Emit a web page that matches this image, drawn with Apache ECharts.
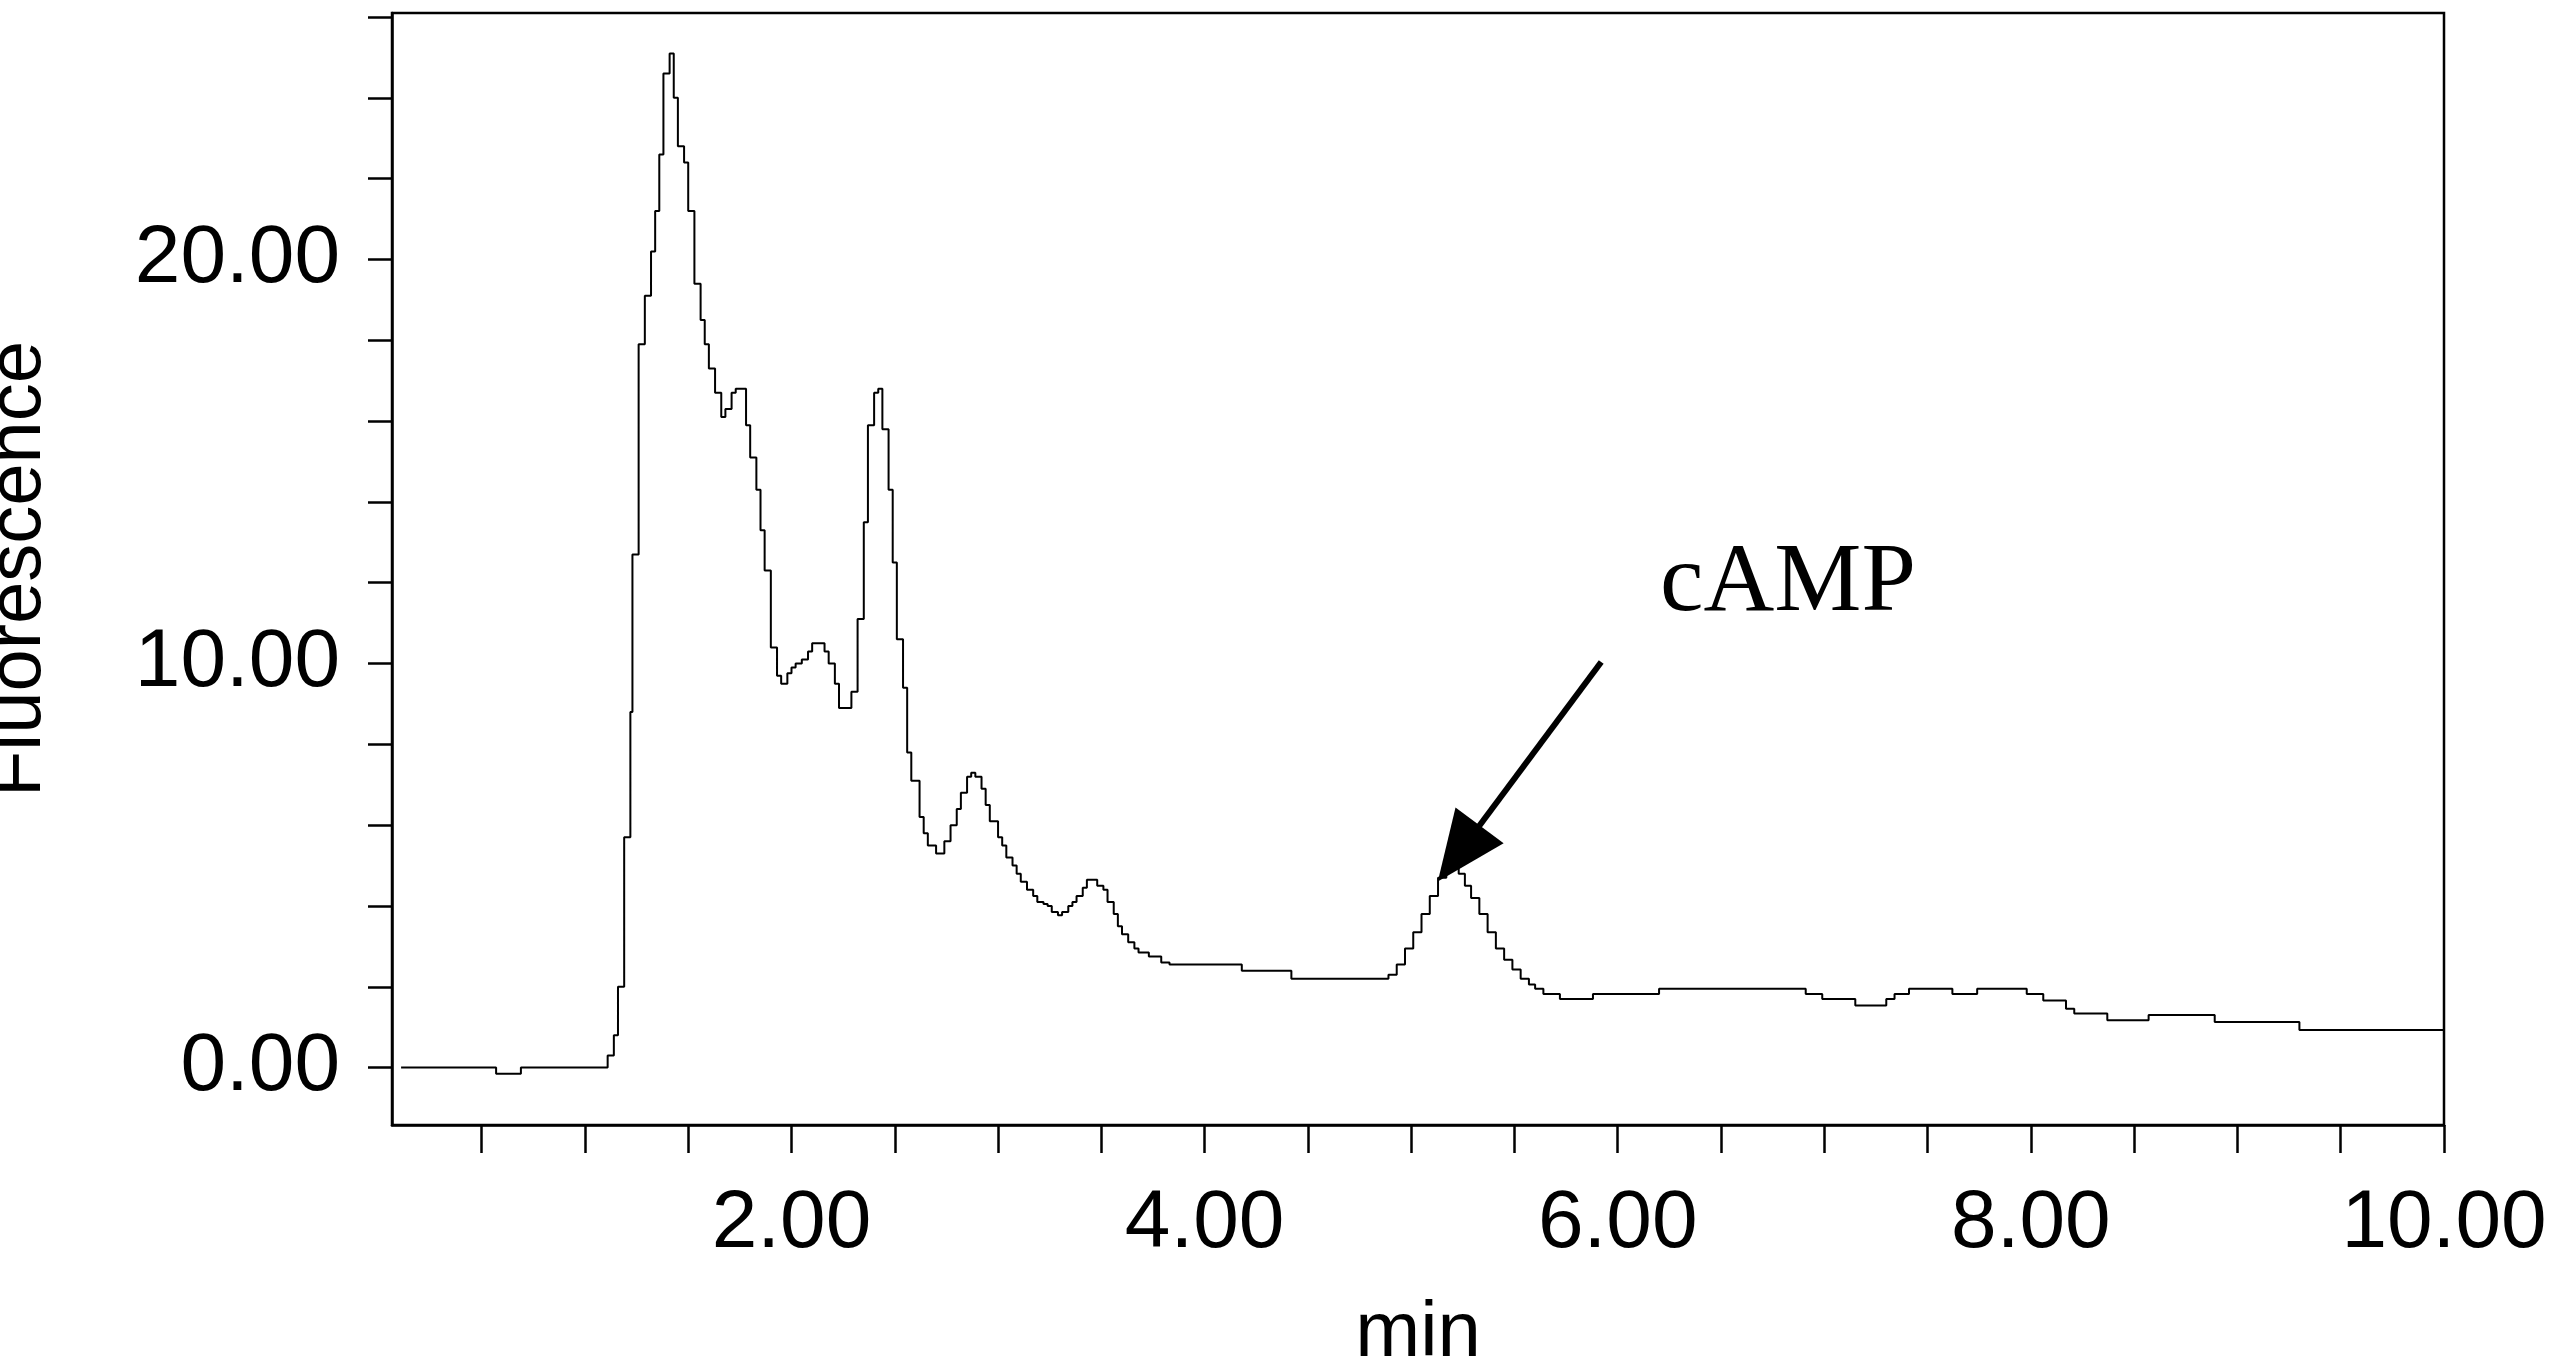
<!DOCTYPE html>
<html>
<head>
<meta charset="utf-8">
<title>cAMP</title>
<script src="https://cdn.jsdelivr.net/npm/echarts@6/dist/echarts.min.js"></script>
<style>html,body{margin:0;padding:0;background:#fff}#main{width:2550px;height:1358px}</style>
</head>
<body>
<div id="main"></div>
<script>
// chromatogram trace: time (min) and fluorescence, each value holds from its time on
var times = [0.11,0.57,0.69,1.08,1.11,1.14,1.16,1.19,1.22,1.23,1.26,1.29,1.32,1.34,1.36,1.38,1.41,1.43,1.45,1.48,1.50,1.53,1.56,1.58,1.60,1.63,1.66,1.68,1.71,1.73,1.75,1.78,1.80,1.83,1.85,1.87,1.90,1.93,1.95,1.98,2.00,2.02,2.05,2.08,2.10,2.13,2.16,2.18,2.21,2.23,2.27,2.29,2.32,2.35,2.37,2.40,2.42,2.44,2.47,2.49,2.51,2.54,2.56,2.58,2.62,2.64,2.66,2.70,2.72,2.74,2.77,2.80,2.82,2.85,2.87,2.89,2.92,2.94,2.96,3.00,3.02,3.04,3.07,3.09,3.11,3.14,3.17,3.19,3.22,3.24,3.26,3.29,3.31,3.34,3.36,3.38,3.41,3.43,3.45,3.48,3.51,3.53,3.56,3.58,3.60,3.63,3.66,3.68,3.73,3.79,3.83,4.18,4.42,4.89,4.93,4.97,5.01,5.05,5.09,5.13,5.17,5.21,5.23,5.26,5.29,5.33,5.37,5.41,5.45,5.49,5.53,5.57,5.60,5.64,5.72,5.88,6.20,6.91,6.99,7.15,7.30,7.34,7.41,7.62,7.74,7.98,8.06,8.17,8.21,8.37,8.57,8.89,9.30,10.0];
var fluor = [0,-0.15,0,0,0.3,0.8,2.0,5.7,8.8,12.7,17.9,19.1,20.2,21.2,22.6,24.6,25.1,24.0,22.8,22.4,21.2,19.4,18.5,17.9,17.3,16.7,16.1,16.3,16.7,16.8,16.8,15.9,15.1,14.3,13.3,12.3,10.4,9.7,9.5,9.76,9.9,10.0,10.1,10.3,10.5,10.5,10.3,10.0,9.5,8.9,8.9,9.3,11.1,13.5,15.9,16.7,16.8,15.8,14.3,12.5,10.6,9.4,7.8,7.1,6.2,5.8,5.5,5.3,5.3,5.6,6.0,6.4,6.8,7.2,7.3,7.2,6.9,6.5,6.1,5.7,5.5,5.2,5.0,4.8,4.6,4.4,4.25,4.1,4.05,4.0,3.85,3.77,3.85,4.0,4.1,4.25,4.45,4.65,4.65,4.5,4.4,4.1,3.8,3.5,3.3,3.1,2.95,2.85,2.75,2.6,2.55,2.4,2.2,2.3,2.55,2.95,3.35,3.8,4.25,4.7,4.95,5.0,4.8,4.5,4.2,3.8,3.35,2.95,2.67,2.43,2.2,2.06,1.95,1.82,1.7,1.82,1.95,1.82,1.7,1.54,1.7,1.82,1.95,1.82,1.95,1.82,1.66,1.46,1.34,1.17,1.3,1.13,0.93,0.93];
var xTicks = [0.5,1,1.5,2,2.5,3,3.5,4,4.5,5,5.5,6,6.5,7,7.5,8,8.5,9,9.5,10];
var xLabels = [2,4,6,8,10];
var yTicks = [0,2,4,6,8,10,12,14,16,18,20,22,24,26];
var yLabels = [0,10,20];
var arrowFrom = [5.92, 10.04];
var arrowTo = [5.23, 5.3];

var pts = [];
for (var i = 0; i < times.length; i++) { pts.push([times[i], fluor[i]]); }

var myChart = echarts.init(document.getElementById("main"));
var option = {
    animation: false,
    grid: { left: 392, right: 106, top: 13, bottom: 233, outerBoundsMode: 'none', containLabel: false,
        show: true, borderColor: '#000', borderWidth: 2.5 },
    xAxis: {
        type: 'value', min: 0.066, max: 10,
        name: 'min', nameLocation: 'middle', nameGap: 170,
        nameTextStyle: { fontFamily: 'Liberation Sans', fontSize: 78, color: '#000' },
        axisLine: { onZero: false, lineStyle: { color: '#000', width: 2.5 } },
        axisTick: { customValues: xTicks, length: 28, lineStyle: { color: '#000', width: 2.5 } },
        axisLabel: { customValues: xLabels, margin: 58, fontFamily: 'Liberation Sans', fontSize: 82, color: '#000',
            formatter: function (v) { return v.toFixed(2); } },
        splitLine: { show: false }
    },
    yAxis: {
        type: 'value', min: -1.42, max: 26.1,
        name: 'Fluorescence', nameLocation: 'middle', nameGap: 335,
        nameTextStyle: { fontFamily: 'Liberation Sans', fontSize: 76, color: '#000' },
        axisLine: { onZero: false, lineStyle: { color: '#000', width: 2.5 } },
        axisTick: { customValues: yTicks, length: 24, lineStyle: { color: '#000', width: 2.5 } },
        axisLabel: { customValues: yLabels, margin: 52, fontFamily: 'Liberation Sans', fontSize: 82, color: '#000',
            formatter: function (v) { return v.toFixed(2); } },
        splitLine: { show: false }
    },
    series: [{
        type: 'line', step: 'end', data: pts, showSymbol: false,
        lineStyle: { color: '#000', width: 2 },
        markLine: {
            silent: true, symbol: ['none', 'triangle'], symbolSize: [60, 70],
            lineStyle: { color: '#000', width: 6, type: 'solid' },
            label: { show: false },
            data: [[{ coord: arrowFrom }, { coord: arrowTo }]]
        }
    }],
    graphic: [{
        type: 'text', left: 1660, top: 535,
        style: { text: 'cAMP', fontFamily: 'Liberation Serif', fontSize: 98, fill: '#000' }
    }]
};
myChart.setOption(option);
</script>
</body>
</html>
